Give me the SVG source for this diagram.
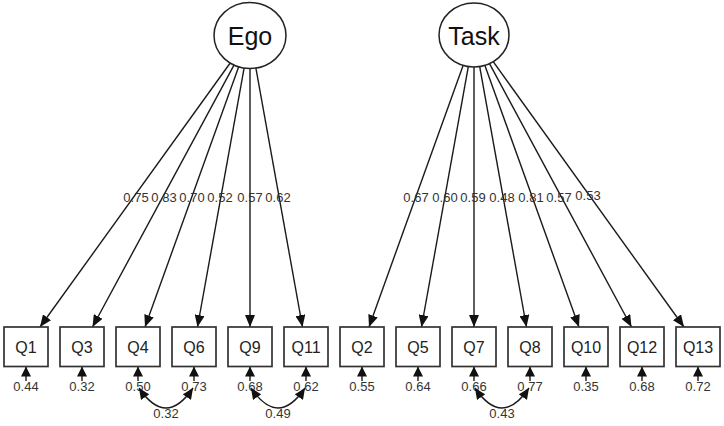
<svg xmlns="http://www.w3.org/2000/svg" width="724" height="426" viewBox="0 0 724 426">
<style>
.lat{fill:#fff;stroke:#222;stroke-width:1.5}
.box{fill:#fff;stroke:#333;stroke-width:1.7}
.ln{stroke:#1a1a1a;stroke-width:1.4;fill:none}
.lt{font-family:"Liberation Sans",Arial,sans-serif;font-size:25px;fill:#111;text-anchor:middle}
.bt{font-family:"Liberation Sans",Arial,sans-serif;font-size:16px;fill:#222;text-anchor:middle}
.el{font-family:"Liberation Sans",Arial,sans-serif;font-size:13px;fill:#333;text-anchor:middle}
.rl{font-family:"Liberation Sans",Arial,sans-serif;font-size:13px;fill:#333;text-anchor:middle}
</style>
<defs>
<marker id="ah" viewBox="0 0 12 10" refX="12" refY="5" markerWidth="12" markerHeight="10" markerUnits="userSpaceOnUse" orient="auto"><path d="M0,0 L12,5 L0,10 z" fill="#111"/></marker>
<marker id="ahs" viewBox="0 0 10 10" refX="10" refY="5" markerWidth="10" markerHeight="10" markerUnits="userSpaceOnUse" orient="auto"><path d="M0,0 L10,5 L0,10 z" fill="#111"/></marker>
<marker id="ahc" viewBox="0 0 11 10" refX="11" refY="5" markerWidth="11" markerHeight="10" markerUnits="userSpaceOnUse" orient="auto-start-reverse"><path d="M0,0 L11,5 L0,10 z" fill="#111"/></marker>
</defs>
<g id="connectors">
<g marker-end="url(#ah)" class="ln">
<line x1="230.2" y1="63" x2="40" y2="327"/>
<line x1="234" y1="65.1" x2="92.5" y2="327"/>
<line x1="238.7" y1="66.8" x2="145" y2="327"/>
<line x1="244.1" y1="68.1" x2="197.5" y2="327"/>
<line x1="250" y1="68.5" x2="250" y2="327"/>
<line x1="255.9" y1="68.1" x2="302.5" y2="327"/>
<line x1="463.1" y1="65.4" x2="369" y2="327"/>
<line x1="468.3" y1="66.6" x2="421.5" y2="327"/>
<line x1="474" y1="67" x2="474" y2="327"/>
<line x1="479.7" y1="66.6" x2="526.5" y2="327"/>
<line x1="484.9" y1="65.4" x2="579" y2="327"/>
<line x1="489.5" y1="63.7" x2="631.5" y2="327"/>
<line x1="493.2" y1="61.7" x2="684" y2="327"/>
</g>
<g class="el">
<text x="136" y="201.5">0.75</text>
<text x="164" y="201.5">0.83</text>
<text x="192" y="201.5">0.70</text>
<text x="220" y="201.5">0.52</text>
<text x="250" y="201.5">0.57</text>
<text x="278" y="201.5">0.62</text>
<text x="416" y="202">0.67</text>
<text x="445" y="202">0.60</text>
<text x="473" y="202">0.59</text>
<text x="502" y="202">0.48</text>
<text x="531" y="202">0.81</text>
<text x="559" y="202">0.57</text>
<text x="588" y="200">0.53</text>
</g>
<g marker-end="url(#ahs)" class="ln">
<line x1="26" y1="381" x2="26" y2="366.5"/>
<line x1="82" y1="381" x2="82" y2="366.5"/>
<line x1="138" y1="381" x2="138" y2="366.5"/>
<line x1="194" y1="381" x2="194" y2="366.5"/>
<line x1="250" y1="381" x2="250" y2="366.5"/>
<line x1="306" y1="381" x2="306" y2="366.5"/>
<line x1="362" y1="381" x2="362" y2="366.5"/>
<line x1="418" y1="381" x2="418" y2="366.5"/>
<line x1="474" y1="381" x2="474" y2="366.5"/>
<line x1="530" y1="381" x2="530" y2="366.5"/>
<line x1="586" y1="381" x2="586" y2="366.5"/>
<line x1="642" y1="381" x2="642" y2="366.5"/>
<line x1="698" y1="381" x2="698" y2="366.5"/>
</g>
<g class="rl">
<text x="26" y="391">0.44</text>
<text x="82" y="391">0.32</text>
<text x="138" y="391">0.50</text>
<text x="194" y="391">0.73</text>
<text x="250" y="391">0.68</text>
<text x="306" y="391">0.62</text>
<text x="362" y="391">0.55</text>
<text x="418" y="391">0.64</text>
<text x="474" y="391">0.66</text>
<text x="530" y="391">0.77</text>
<text x="586" y="391">0.35</text>
<text x="642" y="391">0.68</text>
<text x="698" y="391">0.72</text>
</g>
<g class="ln" marker-start="url(#ahc)" marker-end="url(#ahc)">
<path d="M139,388 Q166,428 193,388"/>
<path d="M251,388 Q278,428 305,388"/>
<path d="M475,388 Q502,428 529,388"/>
</g>
<g class="rl">
<text x="166" y="418">0.32</text>
<text x="278" y="418">0.49</text>
<text x="502" y="418">0.43</text>
</g>
</g>
<g id="Ego"><ellipse class="lat" cx="250" cy="35.5" rx="36" ry="33"/><text class="lt" x="250" y="45">Ego</text></g>
<g id="Task"><ellipse class="lat" cx="474" cy="35" rx="35" ry="32"/><text class="lt" x="474" y="45">Task</text></g>
<g id="Q1"><rect class="box" x="4" y="327" width="44" height="39.5"/><text class="bt" x="26" y="352.5">Q1</text></g>
<g id="Q3"><rect class="box" x="60" y="327" width="44" height="39.5"/><text class="bt" x="82" y="352.5">Q3</text></g>
<g id="Q4"><rect class="box" x="116" y="327" width="44" height="39.5"/><text class="bt" x="138" y="352.5">Q4</text></g>
<g id="Q6"><rect class="box" x="172" y="327" width="44" height="39.5"/><text class="bt" x="194" y="352.5">Q6</text></g>
<g id="Q9"><rect class="box" x="228" y="327" width="44" height="39.5"/><text class="bt" x="250" y="352.5">Q9</text></g>
<g id="Q11"><rect class="box" x="284" y="327" width="44" height="39.5"/><text class="bt" x="306" y="352.5">Q11</text></g>
<g id="Q2"><rect class="box" x="340" y="327" width="44" height="39.5"/><text class="bt" x="362" y="352.5">Q2</text></g>
<g id="Q5"><rect class="box" x="396" y="327" width="44" height="39.5"/><text class="bt" x="418" y="352.5">Q5</text></g>
<g id="Q7"><rect class="box" x="452" y="327" width="44" height="39.5"/><text class="bt" x="474" y="352.5">Q7</text></g>
<g id="Q8"><rect class="box" x="508" y="327" width="44" height="39.5"/><text class="bt" x="530" y="352.5">Q8</text></g>
<g id="Q10"><rect class="box" x="564" y="327" width="44" height="39.5"/><text class="bt" x="586" y="352.5">Q10</text></g>
<g id="Q12"><rect class="box" x="620" y="327" width="44" height="39.5"/><text class="bt" x="642" y="352.5">Q12</text></g>
<g id="Q13"><rect class="box" x="676" y="327" width="44" height="39.5"/><text class="bt" x="698" y="352.5">Q13</text></g>
</svg>
